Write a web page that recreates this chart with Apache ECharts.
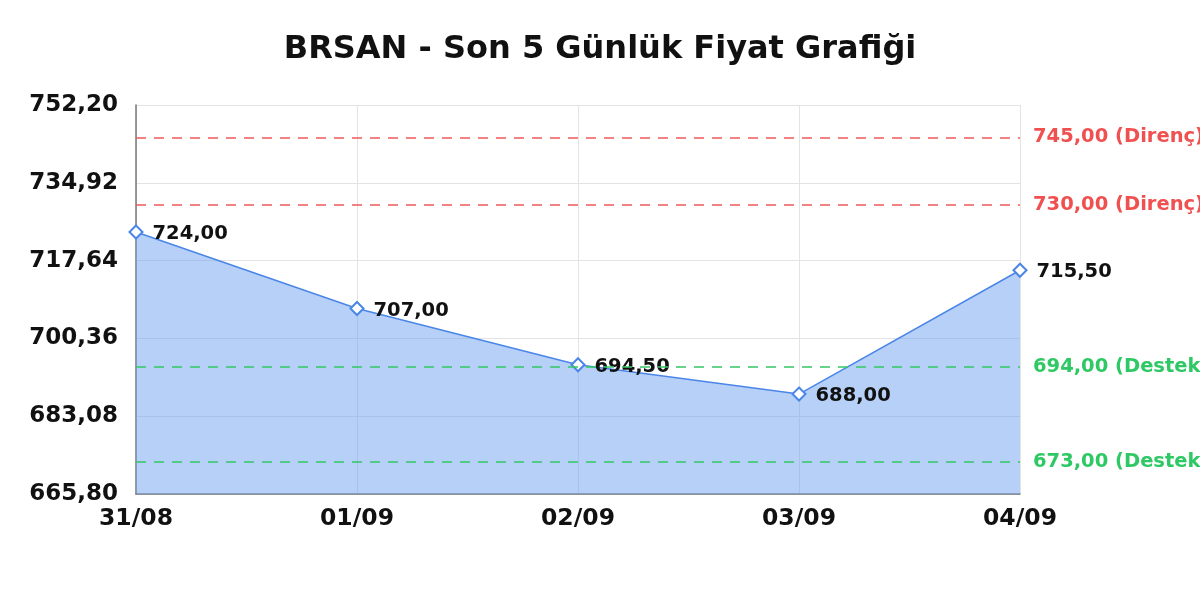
<!DOCTYPE html>
<html>
<head>
<meta charset="utf-8">
<script src="https://cdn.jsdelivr.net/npm/echarts@6/dist/echarts.min.js"></script>
<style>html,body{margin:0;padding:0;background:#fff}#c{width:1200px;height:600px}</style>
</head>
<body>
<div id="c"></div>
<script>
const categories = ['31/08', '01/09', '02/09', '03/09', '04/09'];
const prices = [724.00, 707.00, 694.50, 688.00, 715.50];
const resistance = [745.00, 730.00];
const support = [694.00, 673.00];
const yMin = 665.80, yMax = 752.20, yStep = 17.28;

const fmt = v => v.toFixed(2).replace('.', ',');
const font = '"DejaVu Sans", sans-serif';

const chart = echarts.init(document.getElementById('c'));
chart.setOption({
  animation: false,
  backgroundColor: '#fff',
  title: {
    text: 'BRSAN - Son 5 Günlük Fiyat Grafiği',
    left: 'center', top: 29,
    textStyle: { fontFamily: font, fontWeight: 'bold', fontSize: 32, color: '#111' }
  },
  grid: { left: 136, right: 180, top: 105, bottom: 106 },
  xAxis: {
    type: 'category', data: categories, boundaryGap: false,
    axisLine: { lineStyle: { color: '#777', width: 1.5 } },
    axisTick: { show: false },
    axisLabel: { fontFamily: font, fontWeight: 'bold', fontSize: 23.5, color: '#111', margin: 13 },
    splitLine: { show: true, lineStyle: { color: '#e3e3e3' } }
  },
  yAxis: {
    type: 'value', min: yMin, max: yMax, interval: yStep,
    axisLine: { show: true, lineStyle: { color: '#777', width: 1.5 } },
    axisTick: { show: false },
    axisLabel: { fontFamily: font, fontWeight: 'bold', fontSize: 23, color: '#111', margin: 18, formatter: v => fmt(v) },
    splitLine: { show: true, lineStyle: { color: '#e3e3e3' } }
  },
  series: [{
    type: 'line',
    data: prices,
    symbol: 'emptyDiamond', symbolSize: 13,
    lineStyle: { color: '#4a86e8', width: 1.5 },
    itemStyle: { color: '#4a86e8', borderWidth: 2.5 },
    areaStyle: { color: 'rgba(111,161,239,0.5)', opacity: 1 },
    label: { show: true, position: 'right', distance: 9, offset: [0, 2], fontFamily: font, fontWeight: 'bold', fontSize: 19.5, color: '#111', formatter: p => fmt(p.value) },
    markLine: {
      silent: true, symbol: 'none',
      data: [
        ...resistance.map(v => ({ yAxis: v, lineStyle: { color: '#f05a5a', type: [10, 8], width: 1.5 },
          label: { formatter: fmt(v) + ' (Direnç)', color: '#f05050' } })),
        ...support.map(v => ({ yAxis: v, lineStyle: { color: '#33c864', type: [10, 8], width: 1.5 },
          label: { formatter: fmt(v) + ' (Destek)', color: '#2ec864' } }))
      ],
      label: { position: 'end', distance: 13, fontFamily: font, fontWeight: 'bold', fontSize: 19.5 }
    }
  }]
});
</script>
</body>
</html>
